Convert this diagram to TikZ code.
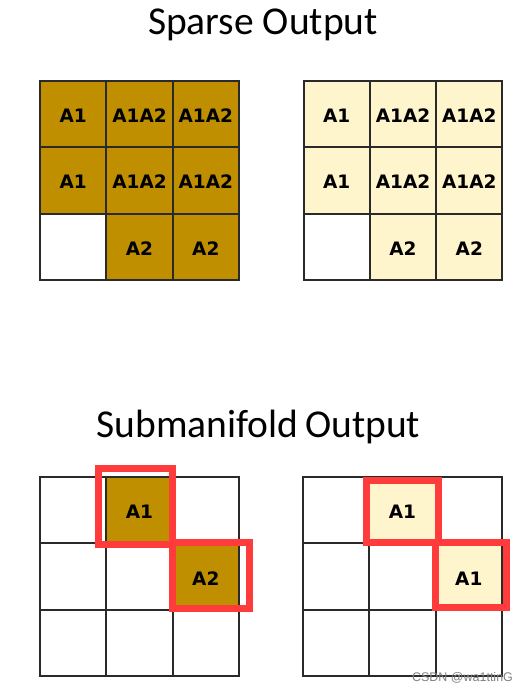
\documentclass[tikz,border=0pt]{standalone}
\usepackage{fontspec}
\setmainfont{Carlito}
\newfontfamily\cellfont{DejaVu Sans}
\newfontfamily\markfont{Liberation Sans}
\definecolor{gold}{HTML}{BF8F00}
\definecolor{cream}{HTML}{FFF5CC}
\definecolor{redbox}{HTML}{FF3B3B}
\definecolor{gridline}{HTML}{2A2A2A}
\begin{document}
\begin{tikzpicture}[x=1pt,y=-1pt,
  cell/.style={draw=gridline, line width=2pt, minimum size=66.33pt, inner sep=0pt,
    text height=17pt, text depth=0pt,
    font=\cellfont\bfseries\fontsize{18.5}{18.5}\selectfont},
  title/.style={font=\fontsize{39.5}{39.5}\selectfont, inner sep=0pt, anchor=base},
  hl/.style={draw=redbox, line width=7pt}]
\useasboundingbox (0,0) rectangle (530,692);
\fill[white] (0,0) rectangle (530,692);

\node[title] (t1) at (263,35) {Sparse Output};
\node[title] (t2) at (258.5,437) {Submanifold\hspace{-2pt} Output};

% top left grid
\foreach \c/\r/\t/\f in {0/0/A1/gold,1/0/A1A2/gold,2/0/A1A2/gold,
  0/1/A1/gold,1/1/A1A2/gold,2/1/A1A2/gold,0/2//white,1/2/A2/gold,2/2/A2/gold}
  \node[cell, fill=\f] (tl\c\r) at ({40+66.33*(\c+0.5)},{81+66.33*(\r+0.5)}) {\t};

% top right grid
\foreach \c/\r/\t/\f in {0/0/A1/cream,1/0/A1A2/cream,2/0/A1A2/cream,
  0/1/A1/cream,1/1/A1A2/cream,2/1/A1A2/cream,0/2//white,1/2/A2/cream,2/2/A2/cream}
  \node[cell, fill=\f] (tr\c\r) at ({303.5+66.33*(\c+0.5)},{81+66.33*(\r+0.5)}) {\t};

% bottom left grid
\foreach \c/\r/\t/\f in {0/0//white,1/0/A1/gold,2/0//white,
  0/1//white,1/1//white,2/1/A2/gold,0/2//white,1/2//white,2/2//white}
  \node[cell, fill=\f] (bl\c\r) at ({40+66.33*(\c+0.5)},{477+66.33*(\r+0.5)}) {\t};

% bottom right grid
\foreach \c/\r/\t/\f in {0/0//white,1/0/A1/cream,2/0//white,
  0/1//white,1/1//white,2/1/A1/cream,0/2//white,1/2//white,2/2//white}
  \node[cell, fill=\f] (br\c\r) at ({303+66.33*(\c+0.5)},{477+66.33*(\r+0.5)}) {\t};

% red highlight boxes
\draw[hl] (98.5,468.5) rectangle (172.5,544.5);
\draw[hl] (172.5,542.5) rectangle (249.5,608.5);
\draw[hl] (366.5,480.5) rectangle (438.5,542.5);
\draw[hl] (435.5,542.5) rectangle (506.5,607.5);

\node[font=\markfont\fontsize{12.5}{12.5}\selectfont, text=black!50, anchor=base, inner sep=0pt] (wm) at (462.5,681) {CSDN @wa1ttinG};
\end{tikzpicture}
\end{document}
